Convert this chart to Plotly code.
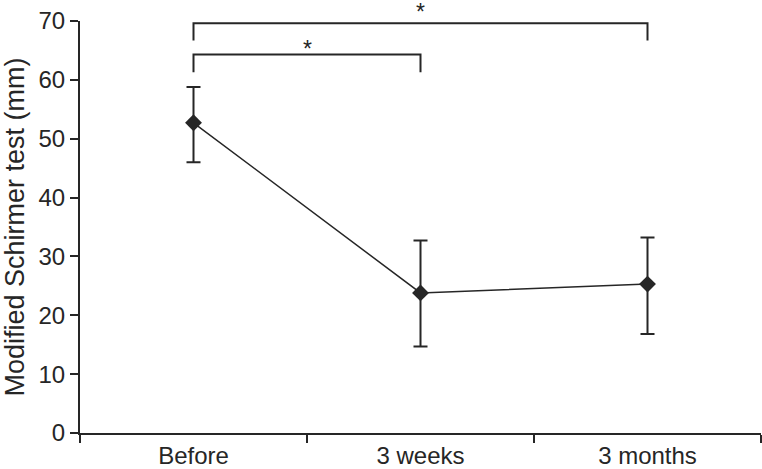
import plotly.graph_objects as go

# Modified Schirmer test over time (mean with error bars)
timepoints = ["Before", "3 weeks", "3 months"]
means = [52.7, 23.8, 25.3]
err_upper = [58.8, 32.7, 33.2]
err_lower = [46.0, 14.7, 16.8]

# significance brackets: (from, to, height, leg bottom)
brackets = [
    ("Before", "3 months", 69.6, 66.7),
    ("Before", "3 weeks", 64.3, 61.3),
]
star_labels = ["*", "*"]

ink = "#262626"
font = "Liberation Sans, Arial, sans-serif"
star_lift = [11, 6]  # px above the bracket line

fig = go.Figure()

fig.add_trace(go.Scatter(
    x=timepoints, y=means,
    mode="lines+markers",
    line=dict(color=ink, width=1.5),
    marker=dict(symbol="diamond", size=13, color=ink),
    error_y=dict(
        type="data", symmetric=False,
        array=[u - m for u, m in zip(err_upper, means)],
        arrayminus=[m - l for m, l in zip(means, err_lower)],
        color=ink, thickness=2, width=7,
    ),
    showlegend=False,
))

for (a, b, top, leg), star, lift in zip(brackets, star_labels, star_lift):
    fig.add_trace(go.Scatter(
        x=[a, a, b, b], y=[leg, top, top, leg],
        mode="lines", line=dict(color=ink, width=2),
        cliponaxis=False, showlegend=False, hoverinfo="skip",
    ))
    ia, ib = timepoints.index(a), timepoints.index(b)
    fig.add_annotation(
        x=(ia + ib) / 2, y=top, text=star, showarrow=False,
        yanchor="middle", yshift=lift,
        font=dict(size=23, color=ink, family=font),
    )

fig.update_layout(
    width=762, height=469,
    margin=dict(l=80, r=1, t=21, b=36),
    plot_bgcolor="white", paper_bgcolor="white",
    font=dict(family=font, size=24, color=ink),
    xaxis=dict(
        type="category", range=[-0.5, 2.5], automargin=False,
        showline=True, linecolor=ink, linewidth=2,
        ticks="outside", tickson="boundaries", ticklen=8, tickwidth=2, tickcolor=ink,
        showgrid=False, zeroline=False,
    ),
    yaxis=dict(
        range=[0, 70], dtick=10, automargin=False, ticklabeloverflow="allow",
        showline=True, linecolor=ink, linewidth=2,
        ticks="outside", ticklen=8, tickwidth=2, tickcolor=ink,
        showgrid=False, zeroline=False,
        title=dict(text="Modified Schirmer test (mm)", standoff=20, font=dict(size=27)),
    ),
)

# drop the default page margin so the figure sits at the window corner
fig.write_html("out.html", config={"displayModeBar": False},
               post_script="document.body.style.margin='0';")
